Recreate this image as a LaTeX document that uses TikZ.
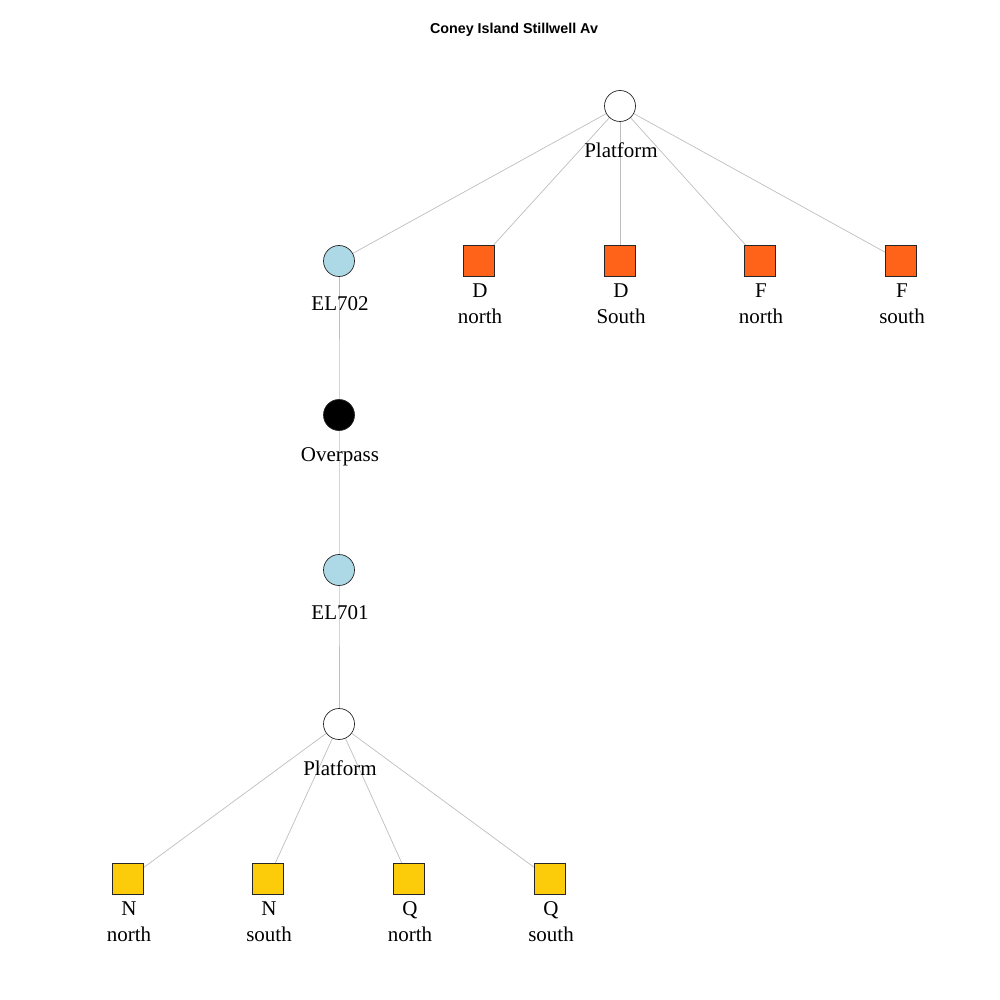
\documentclass[tikz,border=0pt]{standalone}
\usepackage{fontspec}
\setmainfont{Liberation Serif}
\newfontfamily\titlefont{Liberation Sans}
\usetikzlibrary{positioning,backgrounds}
\definecolor{lineorange}{HTML}{FF6319}
\definecolor{lineyellow}{HTML}{FCCC0A}
\definecolor{elblue}{HTML}{ADD8E6}
\definecolor{edgegray}{HTML}{BEBEBE}

\begin{document}
\begin{tikzpicture}[x=1pt,y=-1pt,
	stn/.style={circle,draw=black!85,line width=0.7pt,minimum size=31pt,inner sep=0pt},
	trk/.style={rectangle,draw=black!85,line width=0.7pt,minimum size=31pt,inner sep=0pt},
	lbl/.style={font=\fontsize{21}{26}\selectfont,align=center,inner sep=0pt},
	edge/.style={draw=edgegray,line width=0.7pt}]
		\useasboundingbox (0,0) rectangle (1000,1000);
		\node[font=\titlefont\bfseries\fontsize{14.3}{17}\selectfont] (title) at (514,30) {Coney Island Stillwell Av};
		% upper level
		\node[stn,fill=white] (pfD) at (620,106) {};
		\node[lbl] (pfD-l) at (621,150) {Platform};
		\node[stn,fill=elblue] (el702) at (339,261) {};
		\node[lbl] (el702-l) at (340,304) {EL702};
		\node[trk,fill=lineorange] (Dn) at (479,261) {};
		\node[lbl] (Dn-l) at (480,304) {D\\north};
		\node[trk,fill=lineorange] (Ds) at (620,261) {};
		\node[lbl] (Ds-l) at (621,304) {D\\South};
		\node[trk,fill=lineorange] (Fn) at (760,261) {};
		\node[lbl] (Fn-l) at (761,304) {F\\north};
		\node[trk,fill=lineorange] (Fs) at (901,261) {};
		\node[lbl] (Fs-l) at (902,304) {F\\south};
		% middle
		\node[stn,fill=black] (over) at (339,415) {};
		\node[lbl] (over-l) at (340,457) {Overpass};
		\node[stn,fill=elblue] (el701) at (339,570) {};
		\node[lbl] (el701-l) at (340,613) {EL701};
		% lower level
		\node[stn,fill=white] (pfN) at (339,724) {};
		\node[lbl] (pfN-l) at (340,768) {Platform};
		\node[trk,fill=lineyellow] (Nn) at (128,879) {};
		\node[lbl] (Nn-l) at (129,922) {N\\north};
		\node[trk,fill=lineyellow] (Ns) at (268,879) {};
		\node[lbl] (Ns-l) at (269,922) {N\\south};
		\node[trk,fill=lineyellow] (Qn) at (409,879) {};
		\node[lbl] (Qn-l) at (410,922) {Q\\north};
		\node[trk,fill=lineyellow] (Qs) at (550,879) {};
		\node[lbl] (Qs-l) at (551,922) {Q\\south};
		\begin{scope}[on background layer]
			\foreach \t in {el702,Dn,Ds,Fn,Fs}
				\draw[edge] (pfD.center) -- (\t.center);
			\draw[edge] (el702.center) -- (over.center) -- (el701.center) -- (pfN.center);
			\foreach \t in {Nn,Ns,Qn,Qs}
				\draw[edge] (pfN.center) -- (\t.center);
		\end{scope}
\end{tikzpicture}
\end{document}
